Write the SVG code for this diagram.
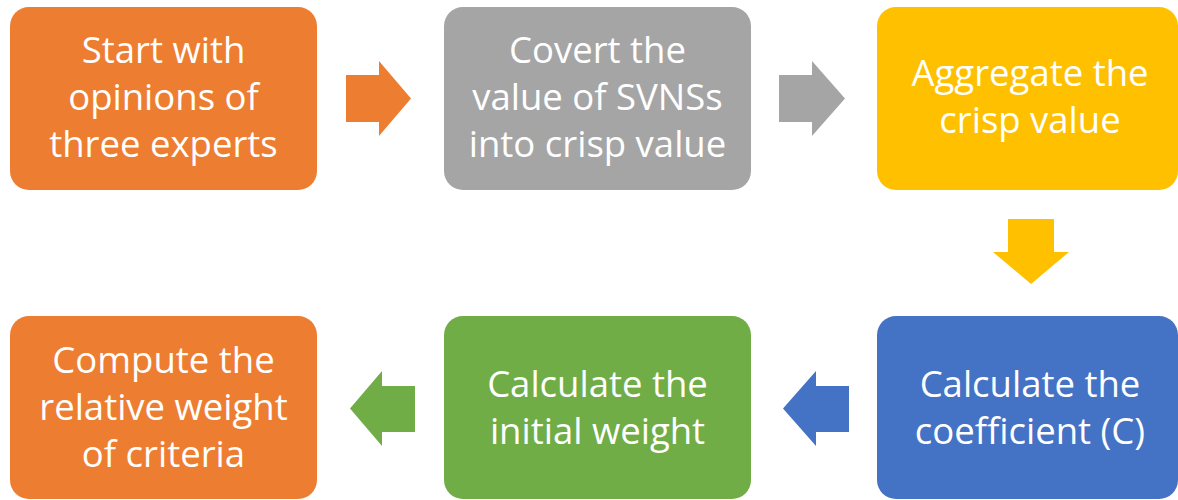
<svg xmlns="http://www.w3.org/2000/svg" width="1178" height="500" viewBox="0 0 1178 500">
<style>
.box{stroke:none}
.t{font-family:"Open Sans","Noto Sans","DejaVu Sans",sans-serif;font-size:36.5px;fill:#FFFFFF;text-anchor:middle}
.orange{fill:#ED7D31}
.gray{fill:#A5A5A5}
.yellow{fill:#FFC000}
.blue{fill:#4472C4}
.green{fill:#70AD47}
</style>
<rect width="1178" height="500" fill="#FFFFFF"/>
<g id="connectors">
<polygon class="orange" points="346,75 379,75 379,61 411,98.5 379,136 379,122 346,122"/>
<polygon class="gray" points="779,75 812,75 812,61 845,98.5 812,136 812,122 779,122"/>
<polygon class="yellow" points="1008,219 1054,219 1054,252 1069,252 1031,284 993,252 1008,252"/>
<polygon class="blue" points="849,386 816,386 816,371 783,408.5 816,446 816,432 849,432"/>
<polygon class="green" points="415,386 382,386 382,371 350,408.5 382,446 382,432 415,432"/>
</g>
<g id="node1">
<rect class="box orange" x="10" y="7" width="307" height="183" rx="19"/>
<text class="t" x="163.5" y="63">Start with</text>
<text class="t" x="163.5" y="110">opinions of</text>
<text class="t" x="163.5" y="157">three experts</text>
</g>
<g id="node2">
<rect class="box gray" x="444" y="7" width="307" height="183" rx="19"/>
<text class="t" x="597.5" y="63">Covert the</text>
<text class="t" x="597.5" y="110">value of SVNSs</text>
<text class="t" x="597.5" y="157">into crisp value</text>
</g>
<g id="node3">
<rect class="box yellow" x="877" y="7" width="301" height="183" rx="19"/>
<text class="t" x="1030" y="86">Aggregate the</text>
<text class="t" x="1030" y="133">crisp value</text>
</g>
<g id="node4">
<rect class="box blue" x="877" y="316" width="301" height="183" rx="19"/>
<text class="t" x="1030" y="397">Calculate the</text>
<text class="t" x="1030" y="444">coefficient (C)</text>
</g>
<g id="node5">
<rect class="box green" x="444" y="316" width="307" height="183" rx="19"/>
<text class="t" x="597.5" y="397">Calculate the</text>
<text class="t" x="597.5" y="444">initial weight</text>
</g>
<g id="node6">
<rect class="box orange" x="10" y="316" width="307" height="183" rx="19"/>
<text class="t" x="163.5" y="373">Compute the</text>
<text class="t" x="163.5" y="420">relative weight</text>
<text class="t" x="163.5" y="467">of criteria</text>
</g>
</svg>
